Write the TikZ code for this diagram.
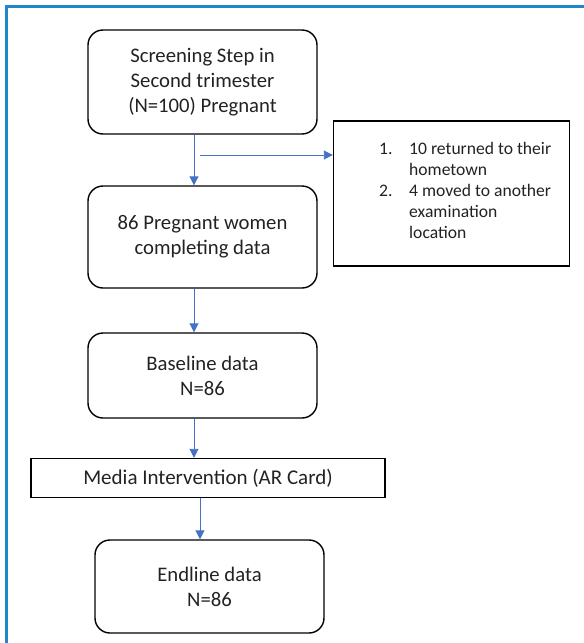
\documentclass[tikz,border=0pt]{standalone}
\usepackage{fontspec}
\setmainfont{Carlito}
\usetikzlibrary{arrows.meta,calc}
\definecolor{frameblue}{HTML}{1E88C8}
\definecolor{arrblue}{HTML}{4472C4}
\definecolor{txt}{HTML}{222222}
\begin{document}
\begin{tikzpicture}[x=1pt,y=1pt,
  rbox/.style={draw=black,line width=1.4pt,rounded corners=15pt,align=center,text=txt,font=\fontsize{20.7}{25}\selectfont,inner sep=0pt},
  sbox/.style={draw=black,line width=1.4pt,align=center,text=txt,inner sep=0pt},
  arr/.style={draw=arrblue,line width=0.9pt,-{Triangle[length=9pt,width=9pt]}}]
\useasboundingbox (0,0) rectangle (584,-643);
\draw[frameblue,line width=2.6pt] (6.5,-643) -- (6.5,-6.5) -- (584,-6.5);
\node[rbox,minimum width=229pt,minimum height=104pt] (b1) at (202.5,-82) {Screening Step in\\Second trimester\\(N=100) Pregnant};
\node[rbox,minimum width=229pt,minimum height=102pt] (b2) at (202.5,-237) {86 Pregnant women\\completing data};
\node[rbox,minimum width=229pt,minimum height=85pt] (b3) at (202.5,-375.5) {Baseline data\\N=86};
\node[sbox,minimum width=354pt,minimum height=39pt,font=\fontsize{21}{25}\selectfont] (m) at (208,-478) {Media Intervention (AR Card)};
\node[rbox,minimum width=229pt,minimum height=93pt] (b4) at (209.5,-586.5) {Endline data\\N=86};
\node[sbox,minimum width=236pt,minimum height=145pt] (r) at (451.5,-193.5) {};
\node[anchor=north west,inner sep=0pt,text=txt,font=\fontsize{17.6}{21}\selectfont] (rt) at (379,-140)
 {\begin{tabular}{@{}p{30pt}@{}l@{}}1.&10 returned to their\\&hometown\\2.&4 moved to another\\&examination\\&location\end{tabular}};
\coordinate (xa) at (194,0);
\coordinate (xb) at (200,0);
\coordinate (hs) at (200,-155);
\draw[arr] (xa |- b1.south) -- (xa |- b2.north);
\draw[arr] (hs) -- (hs -| r.west);
\draw[arr] (xa |- b2.south) -- (xa |- b3.north);
\draw[arr] (xa |- b3.south) -- (xa |- m.north);
\draw[arr] (xb |- m.south) -- (xb |- b4.north);
\end{tikzpicture}
\end{document}
